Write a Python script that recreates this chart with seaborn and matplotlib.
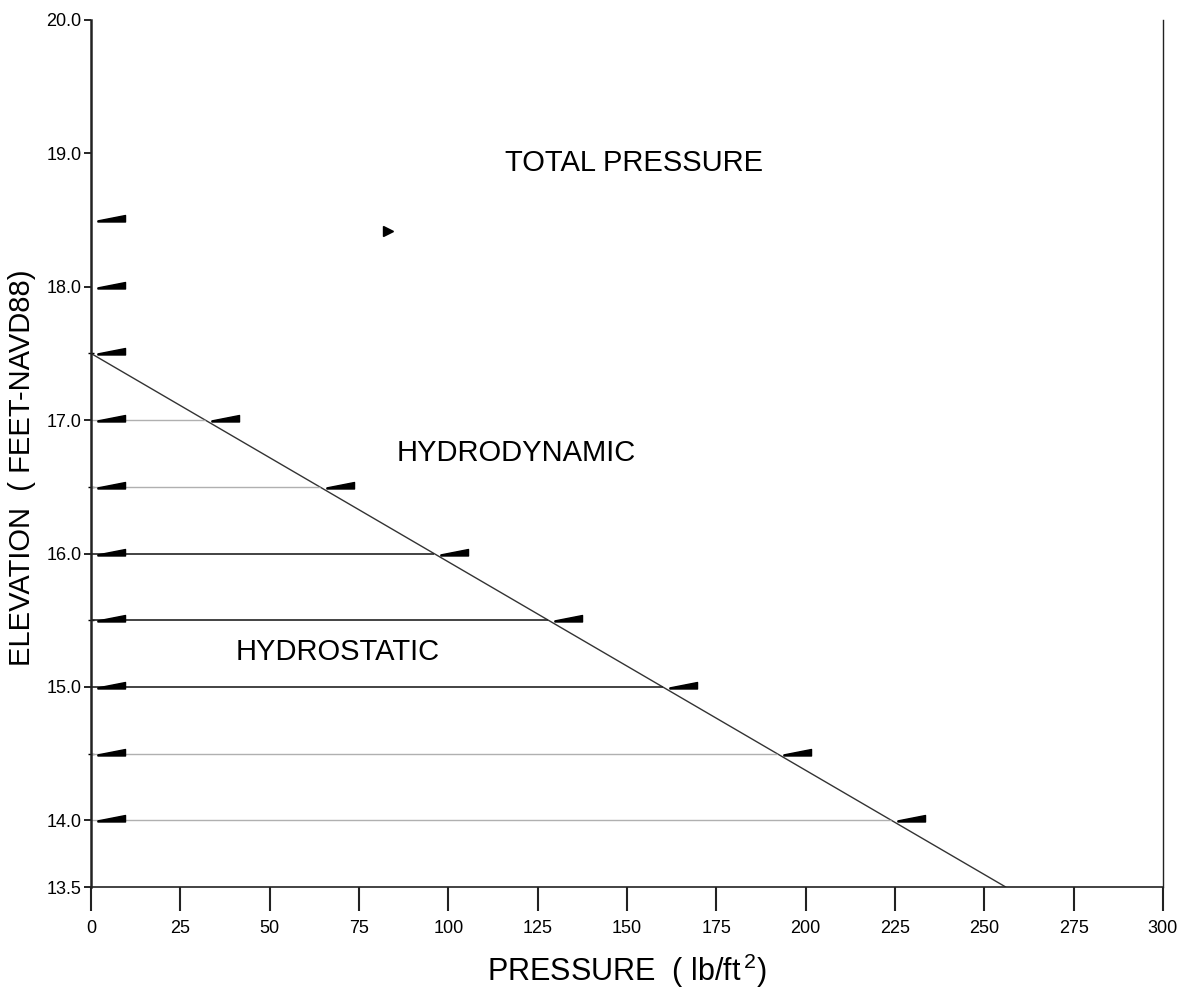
import matplotlib
matplotlib.use("Agg")
import matplotlib.pyplot as plt
import seaborn as sns
import pandas as pd

# elevations (ft NAVD88) where the load arrows sit
arrow_elev = [18.5, 18.0, 17.5, 17.0, 16.5, 16.0, 15.5, 15.0, 14.5, 14.0]
# hydrostatic profile: pressure (lb/ft2) vs elevation
hs_elev = [17.5, 17.0, 16.5, 16.0, 15.5, 15.0, 14.5, 14.0, 13.5]
hs_press = [0, 32, 64, 96, 128, 160, 192, 224, 256]
# which horizontal bars print dark in the original
bar_dark = [False, False, True, True, True, False, False]
# the lone marker near the TOTAL PRESSURE label
lone_press = [83]
lone_elev = [18.42]

x_ticks = [0, 25, 50, 75, 100, 125, 150, 175, 200, 225, 250, 275, 300]
y_ticks = [13.5, 14.0, 15.0, 16.0, 17.0, 18.0, 19.0, 20.0]
y_minor = [14.5, 15.5, 16.5, 17.5]

sns.set_style("ticks")
plt.rcParams["font.family"] = ["Liberation Sans", "DejaVu Sans"]
plt.rcParams["mathtext.fontset"] = "custom"
plt.rcParams["mathtext.rm"] = "Liberation Sans"
for key in ["text.color", "axes.labelcolor", "xtick.color", "ytick.color"]:
    plt.rcParams[key] = "black"

fig = plt.figure(figsize=(11.85, 9.98), dpi=100)
ax = fig.add_axes([0.0768, 0.1112, 0.9046, 0.8688])

df = pd.DataFrame({"pressure": hs_press, "elevation": hs_elev})
sns.lineplot(data=df, x="pressure", y="elevation", sort=False, color="#333333",
             linewidth=1.0, ax=ax)

# horizontal bars from the wall out to the hydrostatic line
for e, p, dark in zip(hs_elev[1:], hs_press[1:], bar_dark):
    ax.hlines(e, 0, p, color="#222222" if dark else "#b0b0b0",
              linewidth=1.2 if dark else 1.0, zorder=2)

# half-arrowhead marker: flat bottom, sloped top, vertical right edge
wedge = [(6, -1.5), (34, -1.5), (34, 5), (6, -0.5)]
ax.plot([0] * len(arrow_elev), arrow_elev, linestyle="none", marker=wedge,
        markersize=49, color="black", zorder=3)
ax.plot(hs_press[1:-1], hs_elev[1:-1], linestyle="none", marker=wedge,
        markersize=49, color="black", zorder=3)
ax.plot(lone_press, lone_elev, linestyle="none", marker=">", markersize=7,
        color="black", zorder=3)

ax.text(152, 18.93, "TOTAL PRESSURE", fontsize=21, ha="center", va="center")
ax.text(119, 16.75, "HYDRODYNAMIC", fontsize=21, ha="center", va="center")
ax.text(69, 15.26, "HYDROSTATIC", fontsize=21, ha="center", va="center")

ax.set_xlim(0, 300)
ax.set_ylim(13.5, 20.0)
ax.set_xticks(x_ticks)
ax.set_xticklabels([str(v) for v in x_ticks])
ax.set_yticks(y_ticks)
ax.set_yticklabels([f"{v:.1f}" for v in y_ticks])
ax.set_yticks(y_minor, minor=True)
ax.tick_params(axis="x", length=17, width=1.5, direction="out", pad=7,
               labelsize=13, color="#222222")
ax.tick_params(axis="y", which="major", length=5, width=1.2, direction="out",
               pad=2, labelsize=13)
ax.tick_params(axis="y", which="minor", length=4, width=1.0, direction="inout")
ax.set_xlabel("")
ax.set_ylabel("")

sns.despine(ax=ax, top=True, right=False)
for side in ["left", "right", "bottom"]:
    ax.spines[side].set_color("#222222")
ax.spines["left"].set_linewidth(1.8)
ax.spines["right"].set_linewidth(1.0)
ax.spines["bottom"].set_linewidth(1.2)

fig.text(0.529, 0.027, "PRESSURE  ( lb/ft$^{\\,2}$)", fontsize=22,
         ha="center", va="center")
fig.text(0.0186, 0.531, "ELEVATION  ( FEET-NAVD88)", fontsize=21,
         rotation=90, ha="center", va="center")

fig.savefig("out.png", dpi=100)
plt.close(fig)
